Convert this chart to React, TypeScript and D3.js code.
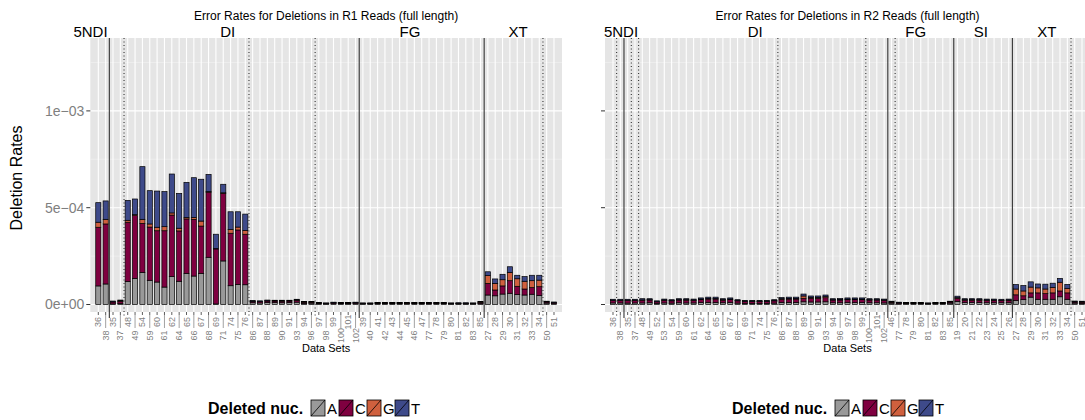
import React from 'react';
import * as d3 from 'd3';

// ---------------- data (deletion rates, units of 1e-4) ----------------
const catsR1 = ['36','38','35','37','48','49','54','59','60','61','62','64','65','66','67','68','69','71','74','75','76','86','87','88','89','90','91','93','94','96','97','98','99','100','101','102','39','40','41','42','43','44','45','46','47','77','78','79','80','81','82','83','85','27','28','29','30','31','32','33','34','50','51'];
const aR1 = [0.96,1.06,0.03,0.05,1.18,1.35,1.66,1.25,1.16,0.90,1.44,1.20,1.61,1.47,1.61,2.44,0.03,2.25,0.97,1.04,1.02,0.09,0.08,0.10,0.10,0.09,0.10,0.12,0.06,0.07,0.04,0.03,0.05,0.04,0.04,0.05,0.03,0.03,0.04,0.04,0.04,0.04,0.04,0.04,0.04,0.04,0.04,0.04,0.03,0.03,0.03,0.03,0.05,0.49,0.45,0.54,0.58,0.51,0.49,0.53,0.47,0.07,0.05];
const cR1 = [3.03,3.10,0.10,0.11,3.07,3.24,2.53,2.75,2.65,2.91,3.18,2.60,2.81,2.93,2.44,3.36,2.84,3.49,2.71,2.81,2.61,0.07,0.07,0.08,0.08,0.08,0.08,0.09,0.06,0.05,0.04,0.03,0.04,0.04,0.04,0.04,0.03,0.03,0.04,0.04,0.04,0.04,0.03,0.04,0.04,0.04,0.04,0.04,0.03,0.03,0.03,0.03,0.06,0.60,0.30,0.42,0.65,0.43,0.31,0.34,0.45,0.06,0.05];
const gR1 = [0.26,0.24,0.02,0.03,0.10,0.05,0.21,0.16,0.18,0.21,0.11,0.14,0.08,0.10,0.26,0.03,0.02,0.03,0.20,0.15,0.20,0.01,0.01,0.02,0.01,0.02,0.01,0.02,0.01,0.01,0.01,0.01,0.01,0.01,0.01,0.01,0.01,0.01,0.01,0.01,0.01,0.01,0.01,0.01,0.01,0.01,0.01,0.01,0.01,0.01,0.01,0.01,0.02,0.40,0.34,0.32,0.43,0.39,0.40,0.36,0.34,0.01,0.01];
const tR1 = [1.01,0.95,0.03,0.04,1.03,0.81,2.72,1.72,1.87,1.81,2.01,1.80,1.81,2.05,2.16,0.89,0.74,0.44,0.91,0.79,0.84,0.03,0.03,0.03,0.03,0.03,0.03,0.04,0.02,0.02,0.01,0.01,0.02,0.02,0.02,0.02,0.01,0.01,0.02,0.02,0.02,0.02,0.02,0.02,0.02,0.02,0.02,0.02,0.01,0.02,0.02,0.01,0.03,0.20,0.23,0.28,0.29,0.18,0.24,0.28,0.25,0.03,0.02];

const catsR2 = ['36','38','35','37','48','49','52','53','54','59','60','61','62','64','65','66','67','68','69','71','74','75','76','86','87','88','89','90','91','93','94','96','97','98','99','100','101','102','46','77','78','79','80','81','82','83','85','19','20','21','22','23','24','25','26','27','28','29','30','31','32','33','34','50','51'];
const aR2 = [0.08,0.08,0.07,0.08,0.08,0.09,0.06,0.08,0.07,0.09,0.08,0.08,0.10,0.11,0.11,0.09,0.10,0.07,0.06,0.06,0.06,0.06,0.07,0.11,0.11,0.11,0.14,0.13,0.13,0.14,0.09,0.09,0.10,0.10,0.10,0.09,0.09,0.08,0.07,0.05,0.04,0.04,0.04,0.03,0.04,0.04,0.07,0.16,0.10,0.10,0.10,0.09,0.09,0.09,0.09,0.20,0.25,0.38,0.27,0.27,0.27,0.40,0.27,0.07,0.06];
const cR2 = [0.12,0.12,0.13,0.12,0.14,0.14,0.08,0.13,0.12,0.14,0.14,0.13,0.15,0.17,0.17,0.13,0.15,0.12,0.10,0.10,0.10,0.10,0.12,0.16,0.17,0.17,0.18,0.19,0.19,0.21,0.14,0.14,0.15,0.15,0.15,0.14,0.14,0.13,0.05,0.04,0.04,0.04,0.04,0.03,0.04,0.04,0.06,0.15,0.12,0.12,0.12,0.12,0.12,0.11,0.12,0.30,0.20,0.22,0.33,0.29,0.33,0.30,0.33,0.06,0.06];
const gR2 = [0.02,0.02,0.02,0.02,0.02,0.02,0.01,0.02,0.02,0.02,0.03,0.02,0.03,0.03,0.03,0.03,0.03,0.02,0.01,0.01,0.01,0.01,0.02,0.03,0.03,0.03,0.12,0.05,0.05,0.06,0.02,0.03,0.03,0.03,0.03,0.02,0.02,0.02,0.01,0.01,0.01,0.01,0.01,0.01,0.01,0.01,0.01,0.04,0.03,0.03,0.03,0.02,0.02,0.02,0.02,0.30,0.25,0.30,0.26,0.24,0.28,0.45,0.23,0.01,0.01];
const tR2 = [0.05,0.05,0.05,0.05,0.06,0.05,0.04,0.05,0.04,0.05,0.05,0.05,0.06,0.07,0.07,0.05,0.06,0.04,0.04,0.04,0.04,0.04,0.04,0.06,0.07,0.07,0.10,0.07,0.07,0.08,0.05,0.05,0.06,0.06,0.06,0.05,0.05,0.05,0.04,0.02,0.01,0.01,0.01,0.01,0.01,0.01,0.03,0.08,0.05,0.05,0.05,0.05,0.05,0.05,0.05,0.23,0.28,0.27,0.20,0.25,0.22,0.20,0.21,0.04,0.04];

const nucs = ['A', 'C', 'G', 'T'];
const nucColors = ['#999999', '#7f0040', '#d0603e', '#3e4a8a'];

const yTicks = [0, 5, 10];
const yTickLabels = ['0e+00', '5e\u221204', '1e\u221203'];
const yMinor = [2.5, 7.5, 12.5];

const stripsR1 = ['5NDI', 'DI', 'FG', 'XT'];
const stripsR2 = ['5NDI', 'DI', 'FG', 'SI', 'XT'];
const stripPosR1 = [-1.06, 17.6, 42.4, 57.1];
const stripPosR2 = [1.09, 19.4, 41.3, 50.2, 59.2];
const solidAfterR1 = ['38', '102', '85'];
const dotAfterR1 = ['37', '76', '96', '34'];
const solidAfterR2 = ['38', '102', '85', '26'];
const dotAfterR2 = ['36', '35', '37', '76', '99', '46', '34'];

const FONT = 'Liberation Sans, Arial, Helvetica, sans-serif';

type PanelProps = {
  title: string;
  cats: string[];
  series: number[][];
  x0: number;
  x1: number;
  strips: string[];
  stripPos: number[];
  solidAfter: string[];
  dotAfter: string[];
  showYLabels: boolean;
  legendX: number;
};

const PANEL_TOP = 38;
const PANEL_BOTTOM = 312;

function Panel(p: PanelProps) {
  const x = d3.scalePoint<string>().domain(p.cats).range([p.x0, p.x1]).padding(1.09);
  const step = x.step();
  const y = d3.scaleLinear().domain([0, 10]).range([304.5, 110.9]);
  const bw = step * 0.7;
  const idxPos = (f: number) => (x(p.cats[0]) as number) + f * step;

  const stacked = p.cats.map((c, i) => {
    let acc = 0;
    return p.series.map((s, k) => {
      const y0 = acc;
      acc += s[i];
      return { k, y0, y1: acc };
    });
  });

  return (
    <g>
      <defs>
        <clipPath id={'clip' + Math.round(p.x0)}>
          <rect x={p.x0} y={PANEL_TOP} width={p.x1 - p.x0} height={PANEL_BOTTOM - PANEL_TOP} />
        </clipPath>
      </defs>
      <rect x={p.x0} y={PANEL_TOP} width={p.x1 - p.x0} height={PANEL_BOTTOM - PANEL_TOP} fill="#e5e5e5" />
      {yMinor.map((v) => (
        <line key={'mn' + v} x1={p.x0} x2={p.x1} y1={y(v)} y2={y(v)} stroke="#f2f2f2" strokeWidth={0.6} />
      ))}
      {yTicks.map((v) => (
        <line key={'mj' + v} x1={p.x0} x2={p.x1} y1={y(v)} y2={y(v)} stroke="#ffffff" strokeWidth={1.1} />
      ))}
      {p.cats.map((c) => (
        <line key={'vg' + c} x1={x(c)} x2={x(c)} y1={PANEL_TOP} y2={PANEL_BOTTOM} stroke="#ffffff" strokeWidth={1.1} />
      ))}
      <g clipPath={`url(#clip${Math.round(p.x0)})`}>
        {p.cats.map((c, i) =>
          stacked[i].map((s) => (
            <rect
              key={c + '-' + s.k}
              x={(x(c) as number) - bw / 2}
              y={y(s.y1)}
              width={bw}
              height={Math.max(0, y(s.y0) - y(s.y1))}
              fill={nucColors[s.k]}
              stroke="#000000"
              strokeWidth={0.7}
            />
          ))
        )}
      </g>
      {p.solidAfter.map((c) => {
        const xx = (x(c) as number) + step / 2;
        return <line key={'s' + c} x1={xx} x2={xx} y1={PANEL_TOP} y2={318} stroke="#333" strokeWidth={1.1} />;
      })}
      {p.dotAfter.map((c) => {
        const xx = (x(c) as number) + step / 2;
        return (
          <line key={'d' + c} x1={xx} x2={xx} y1={PANEL_TOP} y2={316} stroke="#222" strokeWidth={1} strokeDasharray="1,2.5" />
        );
      })}
      {/* y axis */}
      {yTicks.map((v, i) => (
        <g key={'yt' + v}>
          <line x1={p.x0 - 4} x2={p.x0} y1={y(v)} y2={y(v)} stroke="#333" strokeWidth={1} />
          {p.showYLabels && (
            <text x={p.x0 - 6} y={y(v)} dy="0.35em" textAnchor="end" fontSize={14} fill="#7f7f7f" fontFamily={FONT}>
              {yTickLabels[i]}
            </text>
          )}
        </g>
      ))}
      {/* x axis labels */}
      {p.cats.map((c, i) => {
        const xx = x(c) as number;
        const odd = i % 2 === 1;
        return (
          <g key={'xl' + c}>
            <line x1={xx} x2={xx} y1={PANEL_BOTTOM} y2={PANEL_BOTTOM + 3} stroke="#333" strokeWidth={0.8} />
            {odd && <line x1={xx} x2={xx} y1={315} y2={328} stroke="#8a8a8a" strokeWidth={0.8} />}
            <text
              transform={`translate(${xx + 3},${odd ? 335.5 : 322}) rotate(-90)`}
              textAnchor="middle"
              fontSize={9}
              fill="#7f7f7f"
              fontFamily={FONT}
            >
              {c}
            </text>
          </g>
        );
      })}
      {/* strip labels */}
      {p.strips.map((s, i) => (
        <text key={'st' + s} x={idxPos(p.stripPos[i])} y={37} textAnchor="middle" fontSize={15} fontFamily={FONT} fill="#000">
          {s}
        </text>
      ))}
      <text x={(p.x0 + p.x1) / 2} y={20} textAnchor="middle" fontSize={12} fontFamily={FONT} fill="#000">
        {p.title}
      </text>
      <text x={(p.x0 + p.x1) / 2} y={352} textAnchor="middle" fontSize={11} fontFamily={FONT} fill="#000">
        Data Sets
      </text>
      {/* legend */}
      <g transform={`translate(${p.legendX},0)`}>
        <text x={0} y={414} fontSize={16} fontWeight="bold" fontFamily={FONT} fill="#000">
          Deleted nuc.
        </text>
        {nucs.map((n, k) => {
          const kx = 103 + k * 28;
          return (
            <g key={'lg' + n}>
              <rect x={kx} y={400} width={14} height={16} fill={nucColors[k]} stroke="#000" strokeWidth={0.8} />
              <line x1={kx} y1={416} x2={kx + 14} y2={400} stroke="#000" strokeWidth={0.8} />
              <text x={kx + 16} y={414} fontSize={15} fontFamily={FONT} fill="#000">
                {n}
              </text>
            </g>
          );
        })}
      </g>
    </g>
  );
}

export default function App() {
  return (
    <svg width={1085} height={420} style={{ position: 'absolute', left: 0, top: 0, background: '#fff' }}>
      <rect x={0} y={0} width={1085} height={420} fill="#fff" />
      <text
        transform="translate(22,178) rotate(-90)"
        textAnchor="middle"
        fontSize={16}
        fontFamily={FONT}
        fill="#000"
      >
        Deletion Rates
      </text>
      <Panel
        title="Error Rates for Deletions in R1 Reads (full length)"
        cats={catsR1}
        series={[aR1, cR1, gR1, tR1]}
        x0={90.3}
        x1={562}
        strips={stripsR1}
        stripPos={stripPosR1}
        solidAfter={solidAfterR1}
        dotAfter={dotAfterR1}
        showYLabels={true}
        legendX={208}
      />
      <Panel
        title="Error Rates for Deletions in R2 Reads (full length)"
        cats={catsR2}
        series={[aR2, cR2, gR2, tR2]}
        x0={605}
        x1={1090}
        strips={stripsR2}
        stripPos={stripPosR2}
        solidAfter={solidAfterR2}
        dotAfter={dotAfterR2}
        showYLabels={false}
        legendX={732}
      />
    </svg>
  );
}
